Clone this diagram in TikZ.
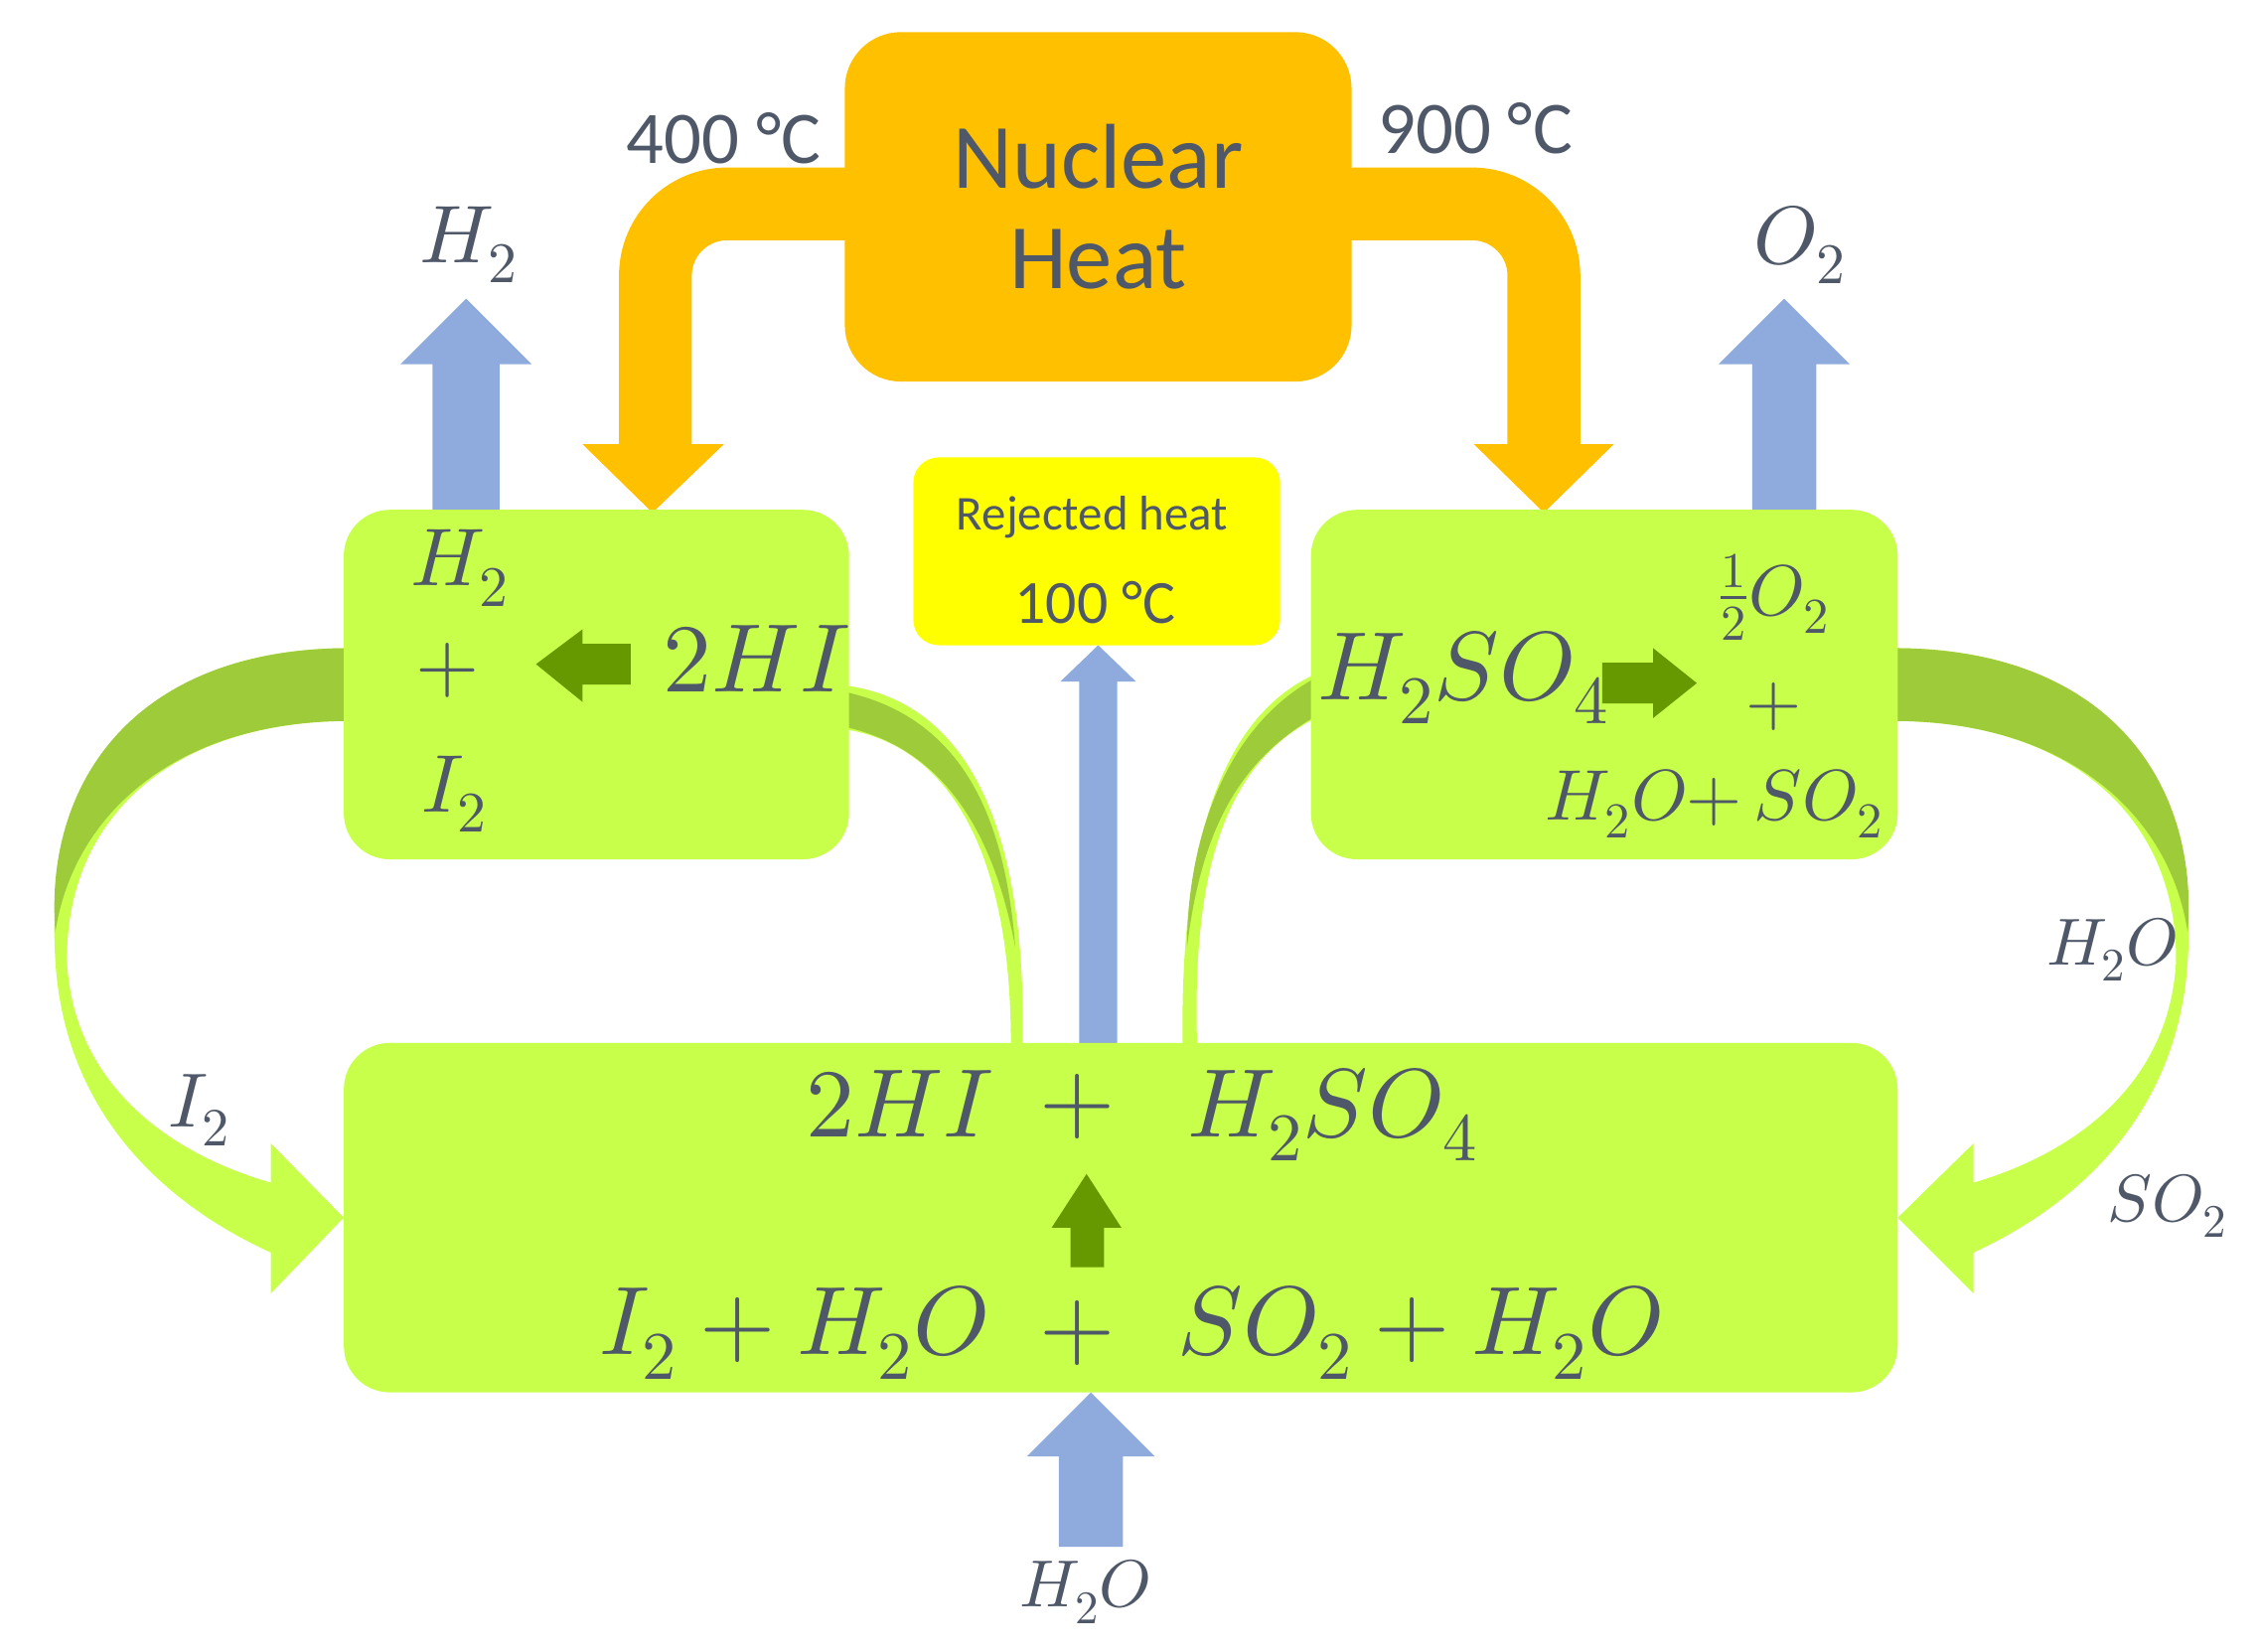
\documentclass[tikz,border=0pt]{standalone}
\usepackage{fontspec}
\usepackage{unicode-math}
\setmainfont{Carlito}
\setmathfont{Latin Modern Math}
\definecolor{orng}{HTML}{FFC000}
\definecolor{lgreen}{HTML}{C8FF4A}
\definecolor{mgreen}{HTML}{9ECB3A}
\definecolor{dgreen}{HTML}{669900}
\definecolor{blu}{HTML}{8FAADC}
\definecolor{txt}{HTML}{4F5868}
\definecolor{yel}{HTML}{FFFF00}
\newcommand{\fs}[1]{\fontsize{#1}{1.2\dimexpr#1pt\relax}\selectfont}
\tikzset{
 box/.style={fill=lgreen,rounded corners=18},
 lbl/.style={text=txt,inner sep=0pt},
}
\begin{document}
\begin{tikzpicture}[x=0.02cm,y=-0.02cm]
\useasboundingbox (0,0) rectangle (1551,1134);
% orange bands
\draw[orng,line width=1cm,rounded corners=28] (600,140) -- (450,140) -- (450,310);
\draw[orng,line width=1cm,rounded corners=28] (900,140) -- (1060,140) -- (1060,310);
\fill[orng] (400,305) -- (497,305) -- (448,352) -- cycle;
\fill[orng] (1012,305) -- (1108,305) -- (1060,352) -- cycle;
\node[fill=orng,rounded corners=22,minimum width=6.96cm,minimum height=4.8cm] (nh) at (754,142) {};
\node[lbl,align=center,font=\fs{36}] at (nh) {Nuclear\\[-4pt]Heat};
% blue arrows
\fill[blu] (297,355) -- (297,250) -- (275,250) -- (320,205) -- (365,250) -- (343,250) -- (343,355) -- cycle;
\fill[blu] (1203,355) -- (1203,250) -- (1180,250) -- (1225,205) -- (1270,250) -- (1247,250) -- (1247,355) -- cycle;
\fill[blu] (741,720) -- (741,468) -- (728,468) -- (754,443) -- (780,468) -- (767,468) -- (767,720) -- cycle;
\fill[blu] (727,1062) -- (727,1000) -- (705,1000) -- (749,956) -- (793,1000) -- (771,1000) -- (771,1062) -- cycle;
% big crescents
\fill[lgreen] (240,445) .. controls (90,445) and (30,540) .. (38,660) .. controls (45,770) and (120,830) .. (186,860)
 -- (186,888) -- (236,836) -- (186,785) -- (186,812) .. controls (110,790) and (50,740) .. (46,660)
 .. controls (45,560) and (120,495) .. (240,495) -- cycle;
\fill[mgreen] (240,445) .. controls (90,445) and (30,540) .. (38,640) .. controls (50,560) and (120,495) .. (240,495) -- cycle;
\fill[lgreen] (1300,445) .. controls (1450,445) and (1510,540) .. (1502,660) .. controls (1495,770) and (1420,830) .. (1355,860)
 -- (1355,888) -- (1303,836) -- (1355,785) -- (1355,812) .. controls (1430,790) and (1490,740) .. (1494,660)
 .. controls (1495,560) and (1420,495) .. (1300,495) -- cycle;
\fill[mgreen] (1300,445) .. controls (1450,445) and (1510,540) .. (1502,640) .. controls (1490,560) and (1420,495) .. (1300,495) -- cycle;
% thin arcs
\fill[lgreen] (575,470) .. controls (680,480) and (705,600) .. (702,720) -- (694,720) .. controls (695,600) and (660,510) .. (575,500) -- cycle;
\fill[mgreen] (575,474) .. controls (660,490) and (690,560) .. (697,650) .. controls (680,560) and (640,510) .. (575,498) -- cycle;
\fill[lgreen] (910,460) .. controls (830,490) and (810,600) .. (812,720) -- (822,720) .. controls (818,600) and (840,520) .. (910,490) -- cycle;
\fill[mgreen] (910,462) .. controls (840,495) and (815,580) .. (815,650) .. controls (825,570) and (850,520) .. (910,488) -- cycle;
% boxes
\node[box,minimum width=6.94cm,minimum height=4.8cm] (lb) at (409.5,470) {};
\node[box,minimum width=8.06cm,minimum height=4.8cm] (rb) at (1101.5,470) {};
\node[box,minimum width=21.34cm,minimum height=4.8cm] (bb) at (769.5,836) {};
\node[fill=yel,rounded corners=10,minimum width=5.04cm,minimum height=2.58cm] (yb) at (753,378.5) {};
\node[lbl,font=\fs{19}] at (750,355) {Rejected heat};
\node[lbl,font=\fs{24}] at (752,414) {100 °C};
% dark green arrows
\fill[dgreen] (433,442) -- (400,442) -- (400,432) -- (368,456) -- (400,482) -- (400,470) -- (433,470) -- cycle;
\fill[dgreen] (1100,455) -- (1135,455) -- (1135,445) -- (1165,469) -- (1135,493) -- (1135,483) -- (1100,483) -- cycle;
\fill[dgreen] (735,870) -- (735,843) -- (722,843) -- (746,806) -- (770,843) -- (758,843) -- (758,870) -- cycle;
% labels
\node[lbl,font=\fs{29}] at (497,95) {400 °C};
\node[lbl,font=\fs{29}] at (1013,88) {900 °C};
\node[lbl,font=\fs{32}] at (322,168) {$H_2$};
\node[lbl,font=\fs{32}] at (1236,168) {$O_2$};
\node[lbl,font=\fs{32}] at (316,390) {$H_2$};
\node[lbl,font=\fs{32}] at (307,460) {$+$};
\node[lbl,font=\fs{32}] at (312,545) {$I_2$};
\node[lbl,font=\fs{38}] at (520,452) {$2HI$};
\node[lbl,font=\fs{38}] at (1005,465) {$H_2SO_4$};
\node[lbl,font=\fs{28}] at (1218,410) {$\frac{1}{2}O_2$};
\node[lbl,font=\fs{28}] at (1218,485) {$+$};
\node[lbl,font=\fs{28}] at (1177,552) {$H_2O{+}\,SO_2$};
\node[lbl,font=\fs{38}] at (618,758) {$2HI$};
\node[lbl,font=\fs{38}] at (740,760) {$+$};
\node[lbl,font=\fs{38}] at (915,765) {$H_2SO_4$};
\node[lbl,font=\fs{38}] at (545,915) {$I_2+H_2O$};
\node[lbl,font=\fs{38}] at (740,915) {$+$};
\node[lbl,font=\fs{38}] at (975,915) {$SO_2+H_2O$};
\node[lbl,font=\fs{30}] at (137,762) {$I_2$};
\node[lbl,font=\fs{26}] at (1450,652) {$H_2O$};
\node[lbl,font=\fs{26}] at (1488,828) {$SO_2$};
\node[lbl,font=\fs{26}] at (745,1093) {$H_2O$};
\end{tikzpicture}
\end{document}
